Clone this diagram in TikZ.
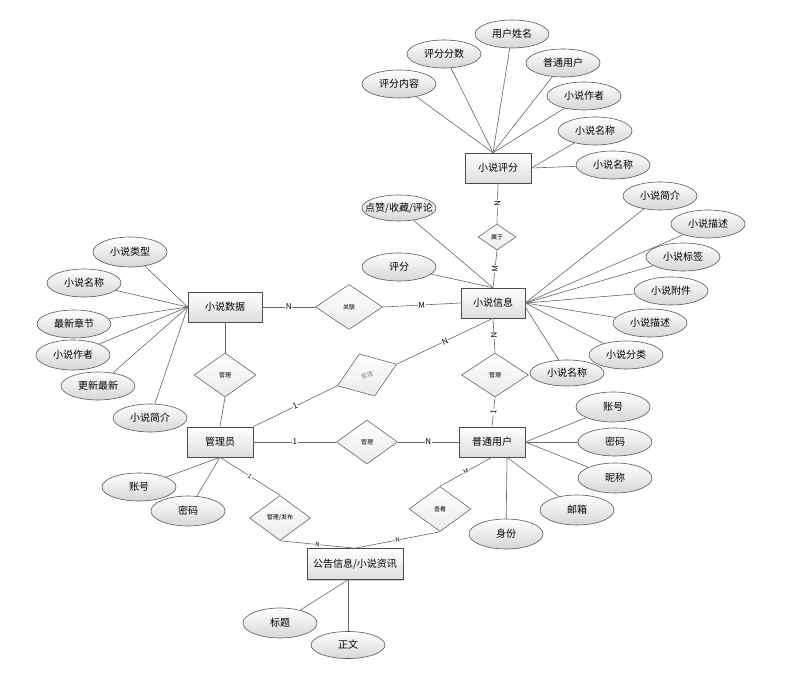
\documentclass[tikz,border=0pt]{standalone}
\usepackage{fontspec}
\newfontfamily\cjk{Noto Sans CJK SC}
\usetikzlibrary{shapes.geometric,shadows,calc}
\newcommand{\zw}[1]{\makebox[0pt]{#1}}
\begin{document}
\begin{tikzpicture}[x=1pt,y=-1pt,
 ln/.style={draw=black!60, line width=0.6pt},
 ent/.style={rectangle, draw=black!70, line width=0.6pt, top color=white, bottom color=black!13, minimum width=66pt, minimum height=30pt, inner sep=1pt, font=\cjk\fontsize{10}{12}\selectfont, general shadow={fill=black!20, shadow xshift=1pt, shadow yshift=-1pt}},
 attr/.style={ellipse, draw=black!65, line width=0.6pt, top color=white, bottom color=black!16, minimum width=74pt, minimum height=28pt, inner sep=0pt, font=\cjk\fontsize{10}{12}\selectfont},
 rel/.style={diamond, draw=black!60, line width=0.6pt, top color=white, bottom color=black!8, minimum width=62pt, minimum height=44pt, inner sep=0pt, font=\cjk\fontsize{6}{7}\selectfont},
 card/.style={font=\cjk\fontsize{8}{9}\selectfont, fill=white, inner sep=0.6pt, sloped},
 cards/.style={card, font=\cjk\fontsize{6}{7}\selectfont},
]
\fill[white] (0,0) rectangle (806,684);
\useasboundingbox (0,0) rectangle (806,684);

% entities
\node[ent] (rate) at (498,168) {小说评分};
\node[ent, minimum width=64pt] (info) at (493,303) {小说信息};
\node[ent, minimum width=74pt] (data) at (225,307) {小说数据};
\node[ent] (admin) at (220,442) {管理员};
\node[ent] (user) at (492,442) {普通用户};
\node[ent, minimum width=96pt, minimum height=31pt] (news) at (355,564) {公告信息/小说资讯};

% relationships
\node[rel, minimum width=38pt, minimum height=26pt] (d1) at (497,237) {属于};
\node[rel, minimum width=67pt, minimum height=45pt] (d2) at (349,307) {关联};
\node[rel] (d3) at (225,375) {管理};
\node[rel, minimum width=63pt, minimum height=45pt, rotate=20, text=black!45] (d4) at (367,375) {管理};
\node[rel, minimum width=61pt] (d5) at (367,442) {管理};
\node[rel, minimum width=67pt] (d6) at (495,375) {管理};
\node[rel, minimum width=61pt, minimum height=45pt] (d7) at (280,518) {管理/发布};
\node[rel, minimum height=45pt] (d8) at (440,509) {查看};

% attributes of 小说评分
\node[attr] (a1) at (399,84) {\zw{评分内容}};
\node[attr] (a2) at (444,54) {\zw{评分分数}};
\node[attr] (a3) at (512,34) {\zw{用户姓名}};
\node[attr] (a4) at (563,63) {\zw{普通用户}};
\node[attr] (a5) at (584,96) {\zw{小说作者}};
\node[attr] (a6) at (595,131) {\zw{小说名称}};
\node[attr] (a7) at (613,165) {\zw{小说名称}};

% attributes of 小说信息
\node[attr, minimum height=26pt] (b1) at (399,208) {\zw{点赞/收藏/评论}};
\node[attr] (b2) at (399,267) {\zw{评分}};
\node[attr] (b3) at (660,196) {\zw{小说简介}};
\node[attr] (b4) at (708,224) {\zw{小说描述}};
\node[attr] (b5) at (683,257) {\zw{小说标签}};
\node[attr] (b6) at (671,291) {\zw{小说附件}};
\node[attr] (b7) at (650,323) {\zw{小说描述}};
\node[attr] (b8) at (626,355) {\zw{小说分类}};
\node[attr, minimum height=26pt] (b9) at (567,373) {\zw{小说名称}};

% attributes of 小说数据
\node[attr, minimum height=30pt] (c1) at (130,252) {\zw{小说类型}};
\node[attr] (c2) at (84,283) {\zw{小说名称}};
\node[attr] (c3) at (74,324) {\zw{最新章节}};
\node[attr, minimum height=30pt] (c4) at (73,355) {\zw{小说作者}};
\node[attr] (c5) at (98,386) {\zw{更新最新}};
\node[attr] (c6) at (150,418) {\zw{小说简介}};

% attributes of 管理员
\node[attr] (e1) at (139,487) {\zw{账号}};
\node[attr, minimum height=30pt] (e2) at (188,511) {\zw{密码}};

% attributes of 普通用户
\node[attr, minimum height=30pt] (f1) at (613,407) {\zw{账号}};
\node[attr] (f2) at (615,442) {\zw{密码}};
\node[attr, minimum height=30pt] (f3) at (615,478) {\zw{昵称}};
\node[attr, minimum height=30pt] (f4) at (577,510) {\zw{邮箱}};
\node[attr, minimum height=30pt] (f5) at (506,534) {\zw{身份}};

% attributes of 公告信息
\node[attr, minimum height=30pt] (g1) at (280,623) {\zw{标题}};
\node[attr, minimum height=27pt] (g2) at (348,645) {\zw{正文}};

% convergence points
\coordinate (rateT) at ($(rate.north)+(-5,0)$);
\coordinate (infoR) at ($(info.east)+(0,4)$);
\coordinate (userB) at ($(user.south)+(15,0)$);
\coordinate (newsB) at ($(news.south)+(-7,0)$);

% attribute connectors
\foreach \n in {a1,a2,a3,a4,a5} \draw[ln] (\n) -- (rateT);
\foreach \n in {a6,a7} \draw[ln] (\n) -- (rate.east);
\foreach \n in {b1,b2} \draw[ln] (\n) -- (info.north);
\foreach \n in {b3,b4,b5,b6,b7,b8} \draw[ln] (\n) -- (info.east);
\draw[ln] (b9) -- (infoR);
\foreach \n in {c1,c2,c3,c4,c5,c6} \draw[ln] (\n) -- (data.west);
\foreach \n in {e1,e2} \draw[ln] (\n) -- (admin.south);
\foreach \n in {f1,f2,f3} \draw[ln] (\n) -- (user.east);
\foreach \n in {f4,f5} \draw[ln] (\n) -- (userB);
\foreach \n in {g1,g2} \draw[ln] (\n) -- (newsB);

% relationship connectors
\draw[ln] (rate.south) -- node[card]{N} (d1.north);
\draw[ln] (d1.south) -- node[card]{M} (info.north);
\draw[ln] (data.east) -- node[card]{N} (d2.west);
\draw[ln] (d2.east) -- node[card]{M} (info.west);
\draw[ln] (data.south) -- (d3.north);
\draw[ln] (d3.south) -- (admin.north);
\draw[ln] (admin.north east) -- node[card]{1} (d4.west);
\draw[ln] (d4.east) -- node[card]{N} (info.south);
\draw[ln] (admin.east) -- node[card]{1} (d5.west);
\draw[ln] (d5.east) -- node[card]{N} (user.west);
\draw[ln] (info.south) -- node[card]{N} (d6.north);
\draw[ln] (d6.south) -- node[card]{1} (user.north);
\draw[ln] (admin.south) -- node[cards]{1} (d7.north);
\draw[ln] (d7.south) -- node[cards]{N} (news.north);
\draw[ln] (user.south) -- node[cards]{M} (d8.north);
\draw[ln] (d8.south) -- node[cards]{N} (news.north);
\end{tikzpicture}
\end{document}
